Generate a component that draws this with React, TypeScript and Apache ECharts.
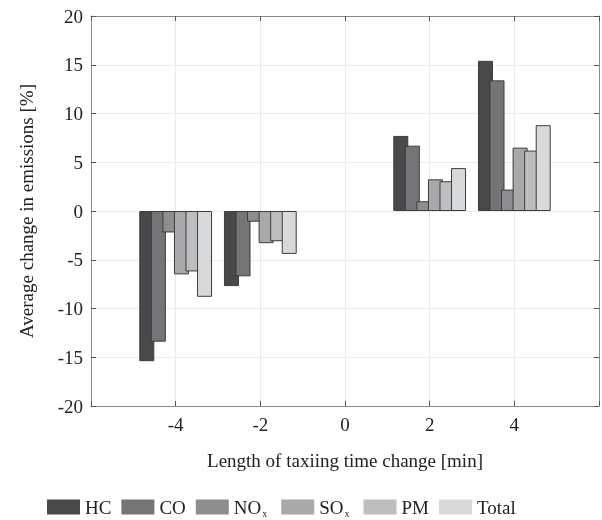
import React, { useEffect, useRef } from "react";
import * as echarts from "echarts";

const xPositions = [-4, -2, 0, 2, 4];
const seriesNames = ["HC", "CO", "NOx", "SOx", "PM", "Total"];
const hc = [-15.4, -7.7, 0, 7.7, 15.4];
const co = [-13.4, -6.7, 0, 6.7, 13.4];
const nox = [-2.2, -1.1, 0, 1.0, 2.2];
const sox = [-6.5, -3.3, 0, 3.25, 6.5];
const pm = [-6.2, -3.1, 0, 3.05, 6.2];
const total = [-8.8, -4.4, 0, 4.4, 8.8];
const colors = ["#48494b", "#757578", "#8d8e90", "#a8a9ab", "#bdbec0", "#d8d9da"];

const FONT = "'Liberation Serif', 'Times New Roman', serif";

export default function App() {
  const ref = useRef<HTMLDivElement>(null);
  useEffect(() => {
    if (!ref.current) return;
    const chart = echarts.init(ref.current, undefined, { renderer: "svg" });
    const all = [hc, co, nox, sox, pm, total];
    const axisLine = { show: true, onZero: false, lineStyle: { color: "#8a8a8a", width: 1 } };
    const tick = { show: true, inside: true, length: 5, lineStyle: { color: "#555", width: 1 } };
    chart.setOption({
      animation: false,
      grid: { left: 91, right: 3, top: 16, bottom: 114 },
      legend: {
        bottom: 2,
        left: 47,
        padding: 0,
        itemWidth: 33,
        itemHeight: 15,
        itemGap: 10,
        icon: "rect",
        data: seriesNames,
        itemStyle: { borderWidth: 0 },
        textStyle: {
          fontFamily: FONT,
          fontSize: 19,
          color: "#222",
          rich: {
            b: { fontFamily: FONT, fontSize: 19, color: "#222", lineHeight: 22 },
            s: {
              fontFamily: FONT,
              fontSize: 10,
              color: "#222",
              lineHeight: 22,
              verticalAlign: "bottom",
              padding: [0, 4, 0, 1],
            },
          },
        },
        formatter: (n: string) => {
          if (n === "NOx") return "{b|NO}{s|x}";
          if (n === "SOx") return "{b|SO}{s|x}";
          return "{b|" + n + "}";
        },
      },
      xAxis: [
        {
          type: "value",
          min: -6,
          max: 6,
          interval: 2,
          position: "bottom",
          name: "Length of taxiing time change [min]",
          nameLocation: "middle",
          nameGap: 45,
          nameTextStyle: { fontFamily: FONT, fontSize: 19, color: "#222" },
          axisLine,
          axisTick: tick,
          axisLabel: {
            fontFamily: FONT,
            fontSize: 19,
            color: "#222",
            margin: 9,
            formatter: (v: number) => (Math.abs(v) === 6 ? "" : String(v)),
          },
          splitLine: { show: true, lineStyle: { color: "#ebebeb", width: 1 } },
        },
        {
          type: "value",
          min: -6,
          max: 6,
          interval: 2,
          position: "top",
          axisLine,
          axisTick: tick,
          axisLabel: { show: false },
          splitLine: { show: false },
        },
      ],
      yAxis: [
        {
          type: "value",
          min: -20,
          max: 20,
          interval: 5,
          name: "Average change in emissions [%]",
          nameLocation: "middle",
          nameGap: 55,
          nameTextStyle: { fontFamily: FONT, fontSize: 19, color: "#222" },
          axisLine,
          axisTick: tick,
          axisLabel: { fontFamily: FONT, fontSize: 19, color: "#222", margin: 8 },
          splitLine: { show: true, lineStyle: { color: "#ebebeb", width: 1 } },
        },
        {
          type: "value",
          min: -20,
          max: 20,
          interval: 5,
          position: "right",
          axisLine,
          axisTick: tick,
          axisLabel: { show: false },
          splitLine: { show: false },
        },
      ],
      series: seriesNames.map((name, i) => ({
        name,
        type: "bar",
        xAxisIndex: 0,
        yAxisIndex: 0,
        barWidth: 15,
        barGap: "-23%",
        data: xPositions.map((x, j) =>
          all[i][j] === 0
            ? { value: [x, 0], itemStyle: { borderWidth: 0, opacity: 0 } }
            : { value: [x, all[i][j]] }
        ),
        itemStyle: { color: colors[i], borderColor: "#3c3c3c", borderWidth: 1 },
        emphasis: { disabled: true },
      })),
    });
    return () => chart.dispose();
  }, []);
  return (
    <div
      ref={ref}
      style={{ position: "fixed", left: 0, top: 0, width: 602, height: 520 }}
    />
  );
}
